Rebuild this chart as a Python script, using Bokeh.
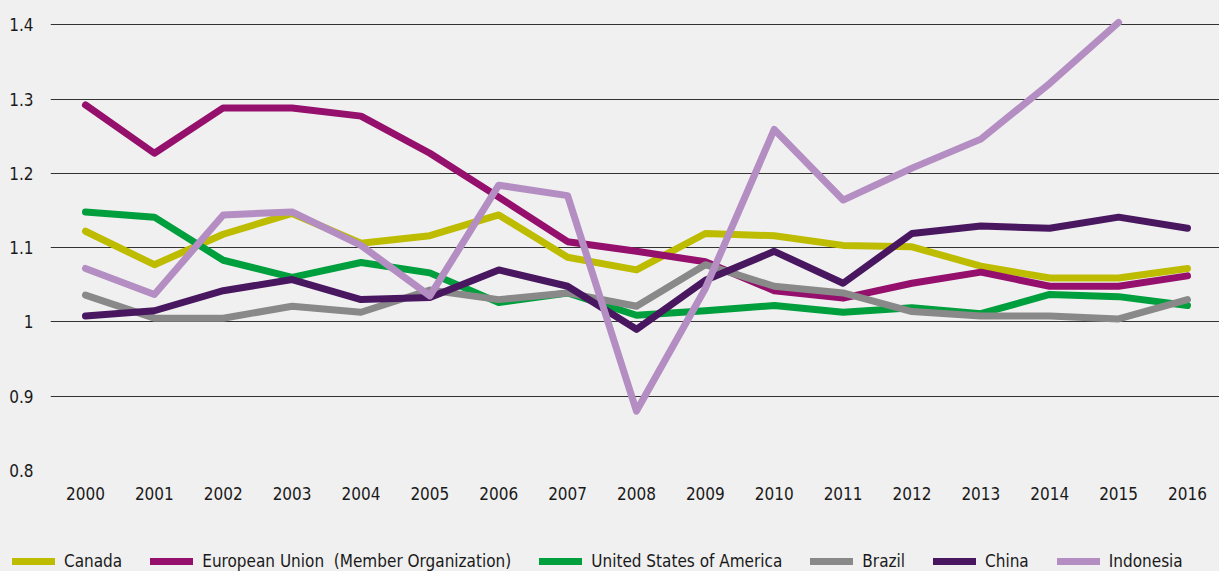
import numpy as np
from bokeh.plotting import figure
from bokeh.layouts import column
from bokeh.models import FixedTicker, Legend, LegendItem, ColumnDataSource
from bokeh.embed import file_html
from bokeh.resources import INLINE

years = list(range(2000, 2017))
canada = [1.122, 1.077, 1.118, 1.146, 1.106, 1.116, 1.144, 1.087, 1.070, 1.119, 1.116, 1.103, 1.101, 1.075, 1.059, 1.059, 1.072]
eu = [1.292, 1.227, 1.288, 1.288, 1.277, 1.227, 1.168, 1.108, 1.095, 1.081, 1.042, 1.032, 1.052, 1.067, 1.048, 1.048, 1.062]
usa = [1.148, 1.141, 1.083, 1.060, 1.080, 1.066, 1.026, 1.039, 1.009, 1.015, 1.022, 1.013, 1.019, 1.011, 1.037, 1.034, 1.022]
brazil = [1.036, 1.005, 1.005, 1.021, 1.013, 1.043, 1.030, 1.039, 1.021, 1.077, 1.048, 1.039, 1.014, 1.008, 1.008, 1.004, 1.030]
china = [1.008, 1.015, 1.042, 1.057, 1.030, 1.033, 1.070, 1.048, 0.990, 1.056, 1.095, 1.052, 1.119, 1.129, 1.126, 1.141, 1.126]
indonesia = [1.072, 1.037, 1.144, 1.148, 1.103, 1.035, 1.184, 1.170, 0.880, 1.045, 1.259, 1.164, 1.207, 1.246, 1.321, 1.403, None]

series_names = ["Canada", "European Union  (Member Organization)", "United States of America",
                "Brazil", "China", "Indonesia"]
series_values = [canada, eu, usa, brazil, china, indonesia]
series_colors = ["#bdbc00", "#950f6c", "#009f3d", "#898989", "#481760", "#b48ec2"]

y_ticks = [0.8, 0.9, 1.0, 1.1, 1.2, 1.3, 1.4]
y_tick_labels = ["0.8", "0.9", "1", "1.1", "1.2", "1.3", "1.4"]

FONT = "'Liberation Sans Narrow', 'DejaVu Sans Condensed', 'Noto Sans', sans-serif"
BG = "#f0f0f0"
W = 1219

# ---- main chart ----
p = figure(width=W, height=530, output_backend="svg", toolbar_location=None,
           x_range=(1999.492, 2016.465), y_range=(0.8, 1.4326),
           min_border_left=50, min_border_right=0, min_border_top=0, min_border_bottom=60,
           background_fill_color=BG, border_fill_color=BG)
p.frame_align = False
p.outline_line_color = None
p.xgrid.grid_line_color = None
p.ygrid.grid_line_color = "#333333"
p.ygrid.grid_line_width = 1

for ax in (p.xaxis, p.yaxis):
    ax.axis_line_color = None
    ax.major_tick_line_color = None
    ax.minor_tick_line_color = None
    ax.major_tick_out = 0
    ax.major_tick_in = 0
    ax.minor_tick_out = 0
    ax.major_label_text_font = FONT
    ax.major_label_text_font_size = "17px"
    ax.major_label_text_color = "#1a1a1a"

p.xaxis.ticker = FixedTicker(ticks=years)
p.xaxis.major_label_standoff = 16
p.yaxis.ticker = FixedTicker(ticks=y_ticks)
p.yaxis.major_label_overrides = {t: l for t, l in zip(y_ticks, y_tick_labels)}
p.yaxis.major_label_standoff = 17

for vals, col in zip(series_values, series_colors):
    ys = np.array([np.nan if v is None else v for v in vals], dtype=float)
    src = ColumnDataSource(dict(x=years, y=ys))
    p.line("x", "y", source=src, line_color=col, line_width=7, line_cap="round", line_join="round")

# ---- legend strip ----
lf = figure(width=W, height=41, output_backend="svg", toolbar_location=None,
            x_range=(0, 1), y_range=(0, 1),
            x_axis_location=None, y_axis_location=None,
            min_border_left=0, min_border_right=0, min_border_top=0, min_border_bottom=0,
            background_fill_color=BG, border_fill_color=BG)
lf.frame_align = False
lf.outline_line_color = None
lf.grid.visible = False

items = []
for name, col in zip(series_names, series_colors):
    r = lf.line(x=[np.nan], y=[np.nan], line_color=col, line_width=7, line_cap="round")
    items.append(LegendItem(label=name, renderers=[r]))

legend = Legend(items=items, orientation="horizontal", location=(12, 0),
                padding=0, margin=0, spacing=28, label_standoff=9,
                glyph_width=43, glyph_height=20, label_height=20,
                label_text_font=FONT, label_text_font_size="17px", label_text_color="#1a1a1a",
                background_fill_alpha=0, border_line_color=None)
lf.add_layout(legend)

layout = column(p, lf, spacing=0, background=BG)
open("out.html", "w").write(file_html(layout, INLINE))
